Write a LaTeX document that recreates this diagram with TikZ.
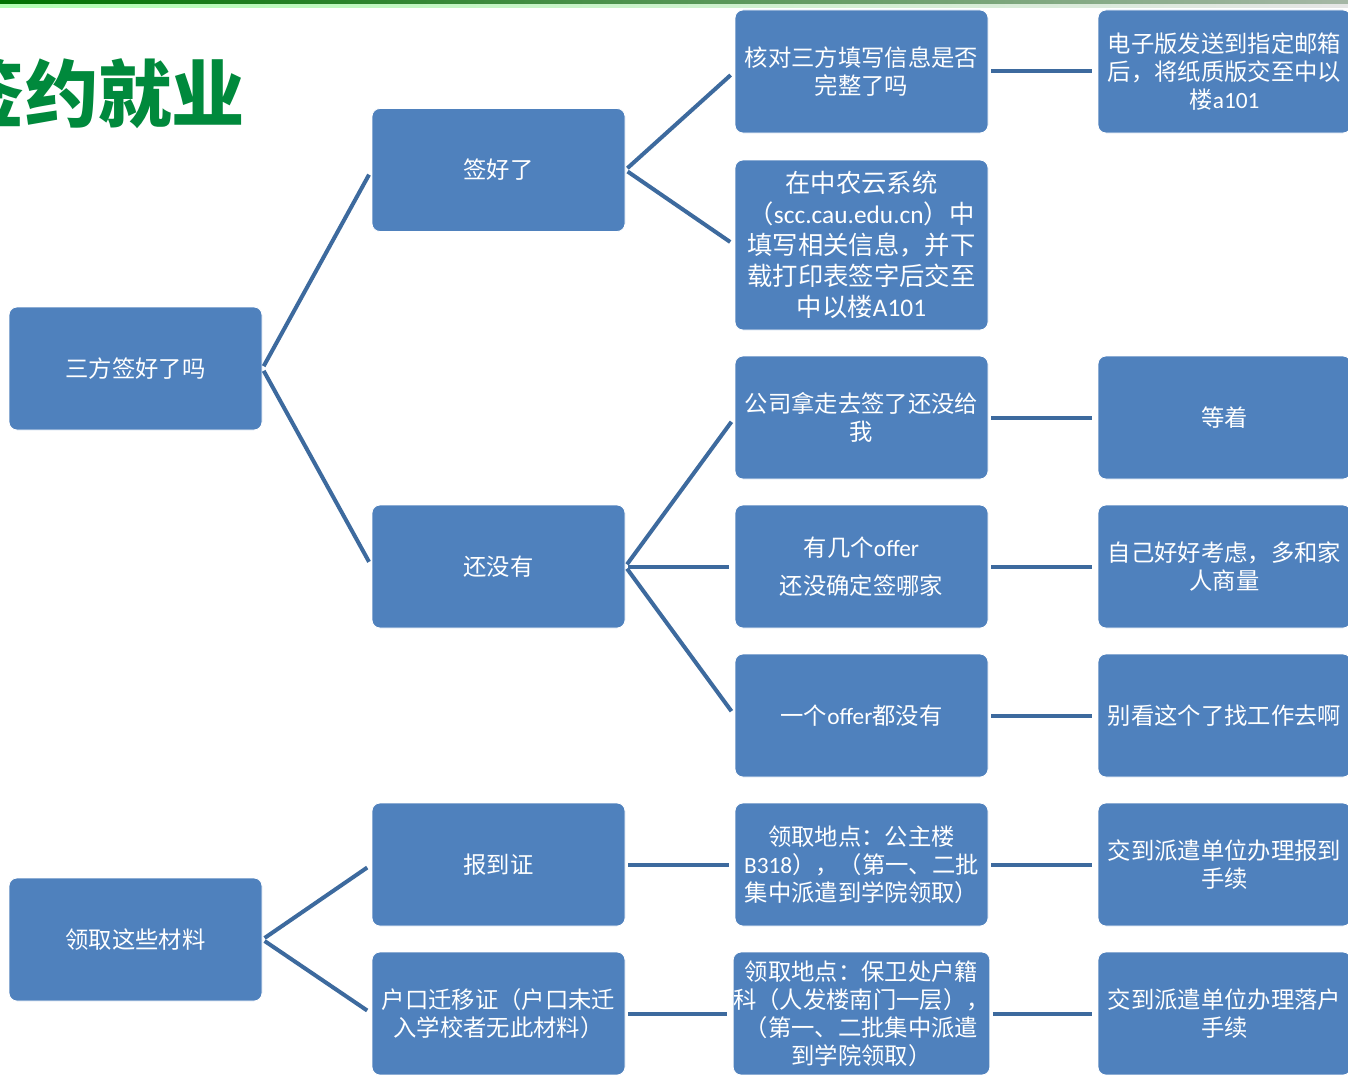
\documentclass[tikz,border=0pt]{standalone}
\usepackage{fontspec}
\setmainfont{Noto Sans CJK SC}
\newfontfamily\latinfont{Carlito}
\newcommand\en[1]{{\latinfont #1}}
\definecolor{boxblue}{HTML}{4F81BD}
\definecolor{linkblue}{HTML}{3D6A9E}
\definecolor{titlegreen}{HTML}{00893C}
\tikzset{
  card/.style={draw=white, line width=0.6pt, fill=boxblue, rounded corners=6pt,
    text=white, align=center, minimum width=189.75pt, minimum height=92.25pt,
    inner sep=0pt, font=\fontsize{17.5}{21}\selectfont},
  branch/.style={draw=linkblue, line width=3pt, shorten <=2pt, shorten >=4pt}
}

\begin{document}
\begin{tikzpicture}[x=0.75pt, y=-0.75pt]
    \useasboundingbox (0,0) rectangle (1348,1074);
    \fill[white] (0,0) rectangle (1348,1074);
    \shade[left color=green!45!black, right color=green!20!black!35!white] (0,0) rectangle (1348,5);
    \shade[left color=green!30!white, right color=black!10!white] (0,5) rectangle (1348,8);
    \node[anchor=east, text=titlegreen, font=\bfseries\fontsize{55}{60}\selectfont] (title) at (250,93) {签约就业};

    % first column
    \node[card] (root1) at (135.5,368.5) {三方签好了吗};
    \node[card] (root2) at (135.5,939.5) {领取这些材料};
    % second column
    \node[card] (signed) at (498.5,170) {签好了};
    \node[card] (notyet) at (498.5,566.5) {还没有};
    \node[card] (cert) at (498.5,864.5) {报到证};
    \node[card] (hukou) at (498.5,1013.5) {户口迁移证（户口未迁\\入学校者无此材料）};
    % third column
    \node[card] (check) at (861.5,71.5) {核对三方填写信息是否\\完整了吗};
    \node[card, minimum height=127.5pt, font=\fontsize{19}{23.2}\selectfont] (online) at (861.5,245)
        {在中农云系统\\（\en{scc.cau.edu.cn}）中\\填写相关信息，并下\\载打印表签字后交至\\中以楼\en{A101}};
    \node[card] (company) at (861.5,417.5) {公司拿走去签了还没给\\我};
    \node[card, font=\fontsize{17.5}{28.5}\selectfont] (offers) at (861.5,566.5) {有几个\en{offer}\\还没确定签哪家};
    \node[card] (nooffer) at (861.5,715.5) {一个\en{offer}都没有};
    \node[card] (pickA) at (861.5,864.5) {领取地点：公主楼\\\en{B318}），（第一、二批\\集中派遣到学院领取）};
    \node[card] (pickB) at (861.5,1013.5) {领取地点：保卫处户籍\\科（人发楼南门一层），\\（第一、二批集中派遣\\到学院领取）};
    % fourth column
    \node[card] (email) at (1224.5,71.5) {电子版发送到指定邮箱\\后，将纸质版交至中以\\楼\en{a101}};
    \node[card] (wait) at (1224.5,417.5) {等着};
    \node[card] (think) at (1224.5,566.5) {自己好好考虑，多和家\\人商量};
    \node[card] (findjob) at (1224.5,715.5) {别看这个了找工作去啊};
    \node[card] (reportA) at (1224.5,864.5) {交到派遣单位办理报到\\手续};
    \node[card] (reportB) at (1224.5,1013.5) {交到派遣单位办理落户\\手续};

    % connectors
    \draw[branch] (root1.east) -- (signed.west);
    \draw[branch] (root1.east) -- (notyet.west);
    \draw[branch] (root2.east) -- (cert.west);
    \draw[branch] (root2.east) -- (hukou.west);
    \draw[branch] (signed.east) -- (check.west);
    \draw[branch] (signed.east) -- (online.west);
    \draw[branch] (notyet.east) -- (company.west);
    \draw[branch] (notyet.east) -- (offers.west);
    \draw[branch] (notyet.east) -- (nooffer.west);
    \draw[branch] (cert.east) -- (pickA.west);
    \draw[branch] (hukou.east) -- (pickB.west);
    \draw[branch] (check.east) -- (email.west);
    \draw[branch] (company.east) -- (wait.west);
    \draw[branch] (offers.east) -- (think.west);
    \draw[branch] (nooffer.east) -- (findjob.west);
    \draw[branch] (pickA.east) -- (reportA.west);
    \draw[branch] (pickB.east) -- (reportB.west);
\end{tikzpicture}
\end{document}
